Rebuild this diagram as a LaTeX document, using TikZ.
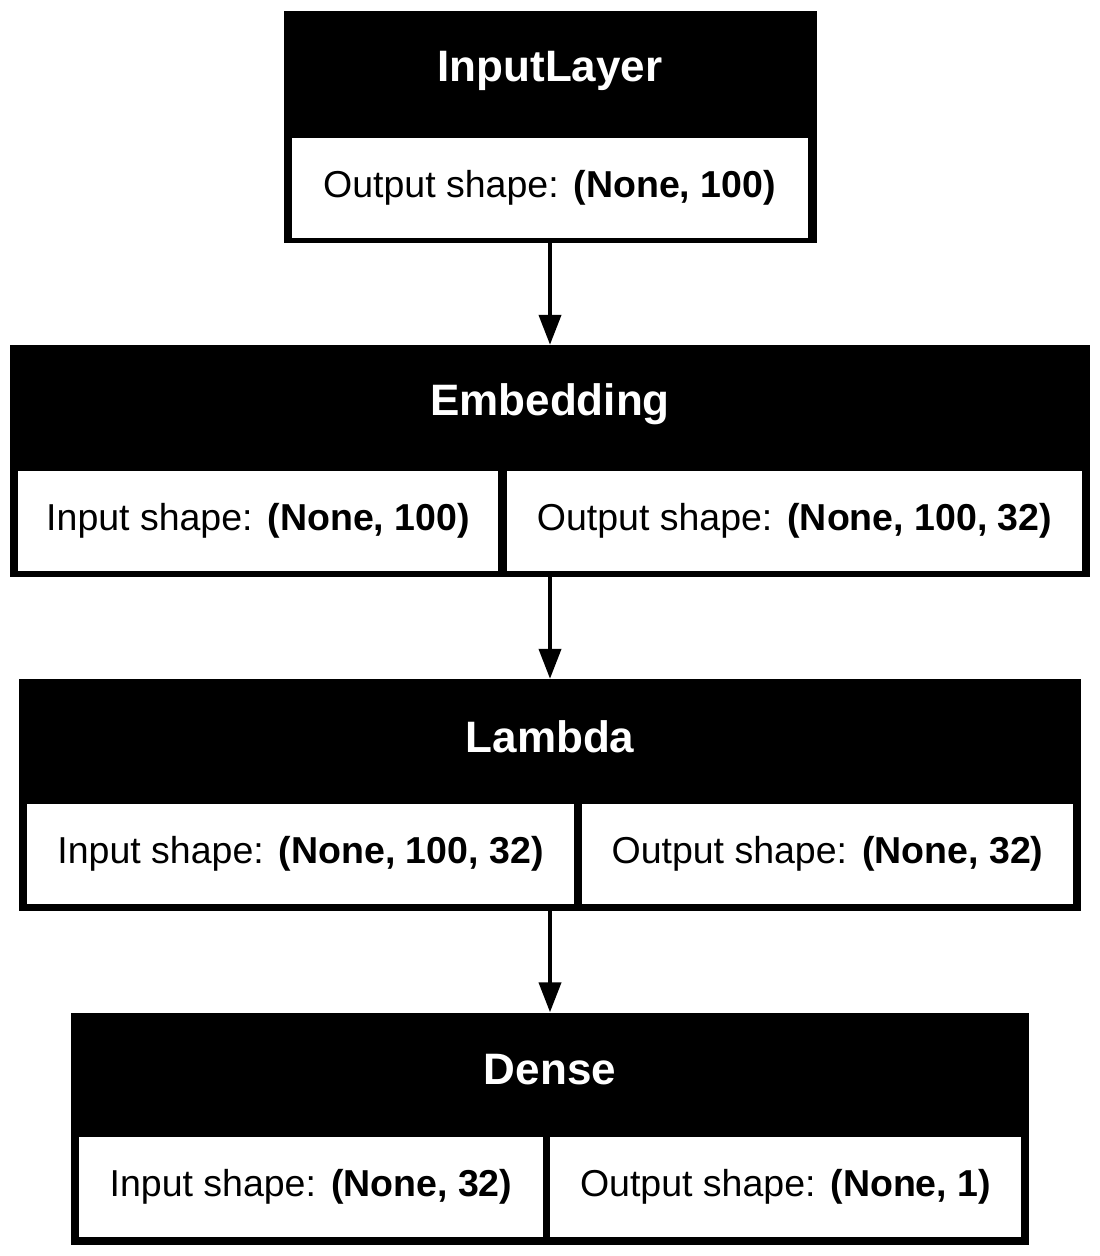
\documentclass[tikz,border=0pt]{standalone}
\usepackage{fontspec}
\setmainfont{Liberation Sans}
\usepackage{tikz}
\usetikzlibrary{arrows.meta}

\begin{document}
\begin{tikzpicture}[x=1pt, y=-1pt,
  layer/.style={rectangle, fill=black, inner sep=0pt, minimum height=232pt},
  title/.style={text=white, font=\fontsize{44}{50}\selectfont\bfseries},
  cell/.style={rectangle, fill=white, inner sep=0pt, minimum height=100pt, font=\fontsize{37.5}{44}\selectfont},
  flow/.style={-{Triangle[length=30pt, width=22pt]}, line width=4pt}]
\useasboundingbox (0,0) rectangle (1100,1256);

% Layer boxes
\node[layer, minimum width=533pt] (inp) at (550,127) {};
\node[layer, minimum width=1080pt] (emb) at (550,461) {};
\node[layer, minimum width=1062pt] (lam) at (550,795) {};
\node[layer, minimum width=958pt] (den) at (550,1128.5) {};

% Titles
\node[title] (inpt) at (550,71) {InputLayer};
\node[title] (embt) at (550,404) {Embedding};
\node[title] (lamt) at (550,737) {Lambda};
\node[title] (dent) at (550,1070) {Dense};

% Shape cells
\node[cell, minimum width=516pt] (inpo) at (549.5,188) {Output shape:\hspace{0.4em}\textbf{(None, 100)}};
\node[cell, minimum width=480pt] (embi) at (258,521) {Input shape:\hspace{0.4em}\textbf{(None, 100)}};
\node[cell, minimum width=575pt] (embo) at (794.5,521) {Output shape:\hspace{0.4em}\textbf{(None, 100, 32)}};
\node[cell, minimum width=547pt] (lami) at (300.5,854) {Input shape:\hspace{0.4em}\textbf{(None, 100, 32)}};
\node[cell, minimum width=491pt] (lamo) at (827.5,854) {Output shape:\hspace{0.4em}\textbf{(None, 32)}};
\node[cell, minimum width=464pt] (deni) at (311,1187) {Input shape:\hspace{0.4em}\textbf{(None, 32)}};
\node[cell, minimum width=471pt] (deno) at (785.5,1187) {Output shape:\hspace{0.4em}\textbf{(None, 1)}};

% Connections
\draw[flow] (inp.south) -- (emb.north);
\draw[flow] (emb.south) -- (lam.north);
\draw[flow] (lam.south) -- (den.north);
\end{tikzpicture}
\end{document}
